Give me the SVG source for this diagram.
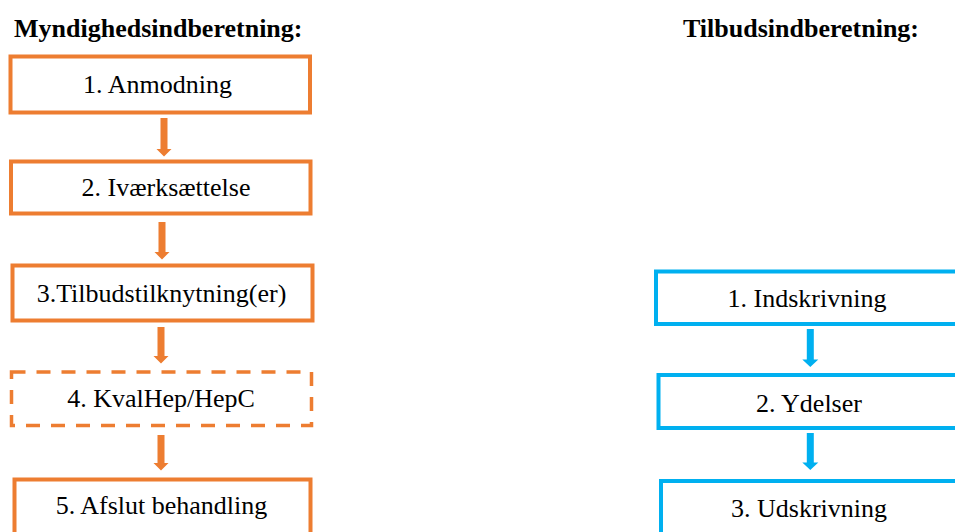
<svg xmlns="http://www.w3.org/2000/svg" width="955" height="532" viewBox="0 0 955 532">
<style>
text{font-family:"Liberation Serif","Times New Roman",serif;font-size:26px;fill:#000;text-anchor:middle}
.title{font-weight:bold;text-anchor:start}
.o{fill:#fff;stroke:#ED7D31;stroke-width:4}
.d{stroke-dasharray:14 11;stroke-width:3.5}
.b{fill:#fff;stroke:#00B0F0;stroke-width:4}
.oa{fill:#ED7D31}
.ba{fill:#00B0F0}
</style>
<rect width="955" height="532" fill="#fff"/>
<text class="title" x="14" y="37">Myndighedsindberetning:</text>
<text class="title" x="683" y="37">Tilbudsindberetning:</text>
<g id="connectors">
<path class="oa" d="M160.5,118 H167.5 V149 H171.5 L164,156.5 L156.5,149 H160.5 Z"/>
<path class="oa" d="M158.5,222 H165.5 V252 H169.5 L162,259.5 L154.5,252 H158.5 Z"/>
<path class="oa" d="M157.5,327 H164.5 V356 H168.5 L161,363.5 L153.5,356 H157.5 Z"/>
<path class="oa" d="M157.5,435 H164.5 V463 H168.5 L161,470.5 L153.5,463 H157.5 Z"/>
<path class="ba" d="M806.8,329 H813.8 V359.5 H818.3 L810.3,367 L802.3,359.5 H806.8 Z"/>
<path class="ba" d="M806.8,433 H813.8 V462.5 H818.3 L810.3,470 L802.3,462.5 H806.8 Z"/>
</g>
<g id="m1"><rect class="o" x="10.5" y="56.5" width="299.5" height="56"/><text x="157.5" y="92.5">1. Anmodning</text></g>
<g id="m2"><rect class="o" x="11" y="161.5" width="299.5" height="52"/><text x="166" y="195.5">2. Iværksættelse</text></g>
<g id="m3"><rect class="o" x="12.5" y="265.5" width="300" height="55"/><text x="161.5" y="301.5">3.Tilbudstilknytning(er)</text></g>
<g id="m4"><rect class="o d" x="11.5" y="372" width="300" height="53.5"/><text x="161" y="406.5">4. KvalHep/HepC</text></g>
<g id="m5"><rect class="o" x="14.5" y="479.5" width="296" height="70"/><text x="161.5" y="514">5. Afslut behandling</text></g>
<g id="t1"><rect class="b" x="656" y="271.5" width="320" height="52.5"/><text x="807" y="307">1. Indskrivning</text></g>
<g id="t2"><rect class="b" x="658.5" y="375" width="320" height="53"/><text x="809" y="412">2. Ydelser</text></g>
<g id="t3"><rect class="b" x="661" y="481" width="320" height="70"/><text x="809" y="517">3. Udskrivning</text></g>
</svg>
